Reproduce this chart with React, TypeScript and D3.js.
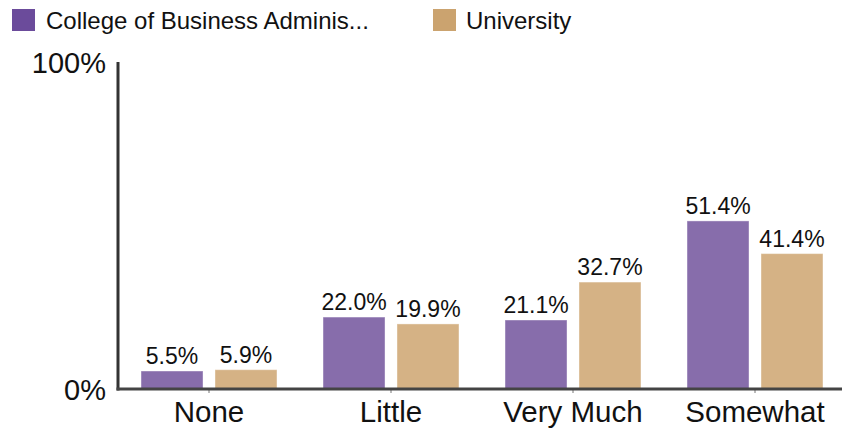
import React from "react";
import * as d3 from "d3";

const categories = ["None", "Little", "Very Much", "Somewhat"];
const seriesNames = ["College of Business Adminis...", "University"];
const collegeValues = [5.5, 22.0, 21.1, 51.4];
const universityValues = [5.9, 19.9, 32.7, 41.4];
const yTicks = [0, 100];

const W = 842;
const H = 433;
const barColors = ["#876dab", "#d5b285"];
const legendColors = ["#6b4b9b", "#cba36f"];
const font = "'Liberation Sans', Arial, sans-serif";

export default function App() {
  const x0 = d3.scaleBand<string>().domain(categories).range([118, 846]).paddingInner(0.253).paddingOuter(0.1265);
  const x1 = d3.scaleBand<string>().domain(seriesNames).range([0, x0.bandwidth()]).paddingInner(0.162).paddingOuter(0);
  const y = d3.scaleLinear().domain([0, 100]).range([389, 62]);
  const series = [collegeValues, universityValues];

  return (
    <svg width={W} height={H} style={{ position: "absolute", left: 0, top: 0, background: "#fff" }}>
      {/* legend */}
      <rect x={12} y={9} width={23} height={22} fill={legendColors[0]} />
      <text x={46} y={28.5} fontFamily={font} fontSize={24} fill="#111">{seriesNames[0]}</text>
      <rect x={433} y={9} width={23} height={22} fill={legendColors[1]} />
      <text x={466} y={28.5} fontFamily={font} fontSize={24} fill="#111">{seriesNames[1]}</text>

      {/* bars */}
      {categories.map((c, i) => (
        <g key={c} transform={`translate(${x0(c)},0)`}>
          {seriesNames.map((s, j) => {
            const v = series[j][i];
            const bx = x1(s)!;
            return (
              <g key={s}>
                <rect x={bx} y={y(v)} width={x1.bandwidth()} height={y(0) - y(v)} fill={barColors[j]} stroke="#ffffff" strokeOpacity={0.4} strokeWidth={1} />
                <text x={bx + x1.bandwidth() / 2} y={y(v) - 7} textAnchor="middle" fontFamily={font} fontSize={23} fill="#111">
                  {v.toFixed(1) + "%"}
                </text>
              </g>
            );
          })}
        </g>
      ))}

      {/* x ticks */}
      {categories.map((c) => {
        const cx = x0(c)! + x0.bandwidth() / 2;
        return (
          <g key={c}>
            <line x1={cx} x2={cx} y1={389} y2={393} stroke="#777" strokeWidth={1} />
            <text x={cx} y={422} textAnchor="middle" fontFamily={font} fontSize={29.5} fill="#111">{c}</text>
          </g>
        );
      })}

      {/* axes */}
      <line x1={118} x2={118} y1={62} y2={390.5} stroke="#333" strokeWidth={3} />
      <line x1={116.5} x2={842} y1={389} y2={389} stroke="#444" strokeWidth={3} />

      {/* y labels */}
      {yTicks.map((t) => (
        <text key={t} x={106} y={t === 0 ? 400 : 73} textAnchor="end" fontFamily={font} fontSize={29} fill="#111">{t + "%"}</text>
      ))}
    </svg>
  );
}
